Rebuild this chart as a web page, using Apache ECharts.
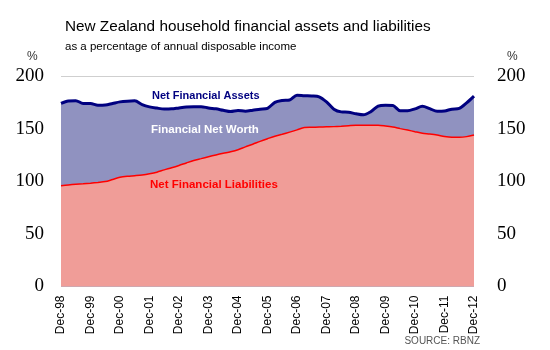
<!DOCTYPE html>
<html>
<head>
<meta charset="utf-8">
<script src="https://cdn.jsdelivr.net/npm/echarts@6/dist/echarts.min.js"></script>
<style>html,body{margin:0;padding:0;background:#fff}#c{width:550px;height:350px}</style>
</head>
<body>
<div id="c"></div>
<script>
const quarters = [
 "Dec-98","Mar-99","Jun-99","Sep-99","Dec-99","Mar-00","Jun-00","Sep-00","Dec-00",
 "Mar-01","Jun-01","Sep-01","Dec-01","Mar-02","Jun-02","Sep-02","Dec-02",
 "Mar-03","Jun-03","Sep-03","Dec-03","Mar-04","Jun-04","Sep-04","Dec-04",
 "Mar-05","Jun-05","Sep-05","Dec-05","Mar-06","Jun-06","Sep-06","Dec-06",
 "Mar-07","Jun-07","Sep-07","Dec-07","Mar-08","Jun-08","Sep-08","Dec-08",
 "Mar-09","Jun-09","Sep-09","Dec-09","Mar-10","Jun-10","Sep-10","Dec-10",
 "Mar-11","Jun-11","Sep-11","Dec-11","Mar-12","Jun-12","Sep-12","Dec-12"
];
const netFinancialAssets = [
 173.9,176.3,176.6,173.9,173.9,172.2,172.4,173.9,175.4,
 176.1,176.4,172.9,170.7,169.5,168.6,168.8,169.7,
 170.5,170.9,170.9,169.6,168.8,167.4,166.2,167.2,
 166.6,167.5,168.5,169.3,174.9,176.7,177.2,181.8,
 181.3,181.0,180.2,175.4,168.5,165.9,165.6,164.1,
 163.1,166.1,171.4,172.3,172.0,167.0,167.0,168.8,
 171.2,169.0,166.4,166.7,168.5,169.2,174.4,180.8
];
const netFinancialLiabilities = [
 95.8,96.5,97.1,97.6,98.2,98.9,99.7,101.7,103.7,
 104.7,105.3,106.0,107.1,108.6,110.8,112.8,115.0,
 117.4,119.7,121.5,123.3,125.0,126.6,128.1,130.0,
 132.7,135.2,137.9,140.4,142.8,144.7,146.7,148.8,
 151.1,151.3,151.5,151.7,151.9,152.3,152.8,153.2,
 153.2,153.2,153.2,152.5,151.5,150.0,148.6,147.1,
 145.7,144.9,143.9,142.5,141.8,141.8,142.4,144.0
];
const yTicks = [0, 50, 100, 150, 200];

const chart = echarts.init(document.getElementById('c'), null, {renderer: 'canvas'});
const yLabel = {fontFamily: 'Liberation Serif', fontSize: 19, color: '#000'};
const t = (extra) => Object.assign({padding: 0}, extra);
chart.setOption({
  animation: false,
  backgroundColor: '#fff',
  grid: {left: 61, right: 76, top: 76, bottom: 63.5, containLabel: false},
  title: [
    t({text: 'New Zealand household financial assets and liabilities', left: 65, top: 19,
     textStyle: {fontFamily: 'Liberation Sans', fontSize: 15.3, fontWeight: 'normal', color: '#000'}}),
    t({text: 'as a percentage of annual disposable income', left: 65, top: 41,
     textStyle: {fontFamily: 'Liberation Sans', fontSize: 11.5, fontWeight: 'normal', color: '#000'}}),
    t({text: '%', left: 27, top: 51, textStyle: {fontFamily: 'Liberation Sans', fontSize: 12, fontWeight: 'normal', color: '#333'}}),
    t({text: '%', left: 507, top: 51, textStyle: {fontFamily: 'Liberation Sans', fontSize: 12, fontWeight: 'normal', color: '#333'}}),
    t({text: 'SOURCE: RBNZ', right: 70, top: 336, textStyle: {fontFamily: 'Liberation Sans', fontSize: 10, fontWeight: 'normal', color: '#555'}})
  ],
  xAxis: {
    type: 'category', data: quarters, boundaryGap: false,
    axisLine: {show: false}, axisTick: {show: false},
    axisLabel: {interval: 3, rotate: 90, margin: 9, fontFamily: 'Liberation Sans', fontSize: 12, color: '#000'},
    splitLine: {show: false}
  },
  yAxis: [
    {type: 'value', min: 0, max: 200, interval: 50, position: 'left',
     axisLine: {show: false}, axisTick: {show: false},
     axisLabel: Object.assign({margin: 17}, yLabel),
     splitLine: {show: true, lineStyle: {color: '#cfcfcf', width: 1}}},
    {type: 'value', min: 0, max: 200, interval: 50, position: 'right',
     axisLine: {show: false}, axisTick: {show: false},
     axisLabel: Object.assign({margin: 23}, yLabel),
     splitLine: {show: false}}
  ],
  series: [
    {name: 'Net Financial Assets', type: 'line', data: netFinancialAssets, symbol: 'none', smooth: 0.3,
     lineStyle: {color: '#000080', width: 3}, areaStyle: {color: '#9092C0', opacity: 1}, z: 2},
    {name: 'Net Financial Liabilities', type: 'line', data: netFinancialLiabilities, symbol: 'none', smooth: 0.3,
     lineStyle: {color: '#FF0000', width: 1.5}, areaStyle: {color: '#F09D98', opacity: 1}, z: 3}
  ],
  graphic: [
    {type: 'text', left: 152, top: 90, z: 10, style: {text: 'Net Financial Assets', fill: '#000080', font: 'bold 11px "Liberation Sans"'}},
    {type: 'text', left: 151, top: 124, z: 10, style: {text: 'Financial Net Worth', fill: '#ffffff', font: 'bold 11.5px "Liberation Sans"'}},
    {type: 'text', left: 150, top: 179, z: 10, style: {text: 'Net Financial Liabilities', fill: '#ff0000', font: 'bold 11.5px "Liberation Sans"'}}
  ]
});
</script>
</body>
</html>
